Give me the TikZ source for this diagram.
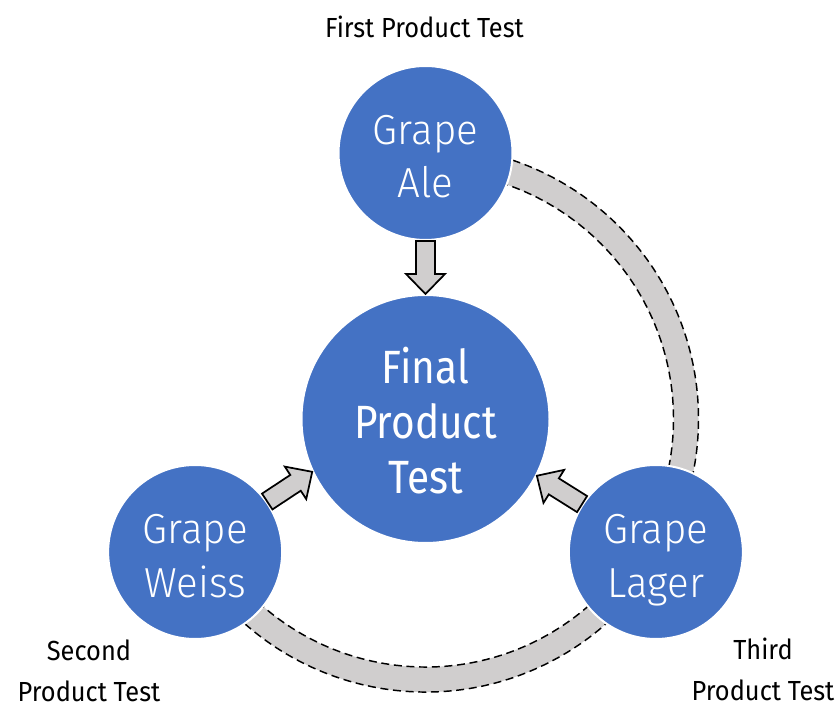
\documentclass[tikz,border=0pt]{standalone}
\usepackage{fontspec}
\setmainfont{Fira Sans}[FakeStretch=0.92]
\newfontfamily\lightfont{Fira Sans Light}[FakeStretch=0.96]
\newfontfamily\finalfont{Fira Sans}[FakeStretch=0.87]
\usetikzlibrary{calc}
\definecolor{cblue}{HTML}{4472C4}
\definecolor{cgray}{HTML}{D0CECE}
\newcommand\myblockarrow[2]{%
  \coordinate (ba-s) at (#1);
  \coordinate (ba-e) at (#2);
  \coordinate (ba-h) at ($(ba-e)!15pt!(ba-s)$);
  \draw[blockarr] ($(ba-s)!7.1pt!90:(ba-e)$) -- ($(ba-h)!7.1pt!90:(ba-e)$) -- ($(ba-h)!14.6pt!90:(ba-e)$) -- (ba-e) -- ($(ba-h)!14.6pt!-90:(ba-e)$) -- ($(ba-h)!7.1pt!-90:(ba-e)$) -- ($(ba-s)!7.1pt!-90:(ba-e)$) -- cycle;}
\begin{document}
\begin{tikzpicture}[x=0.75pt,y=0.75pt,
  stage/.style={circle, fill=cblue, draw=white, line width=1.5pt, text=white, align=center, inner sep=0pt, minimum size=130.5pt, text height=67.5pt, text depth=0pt, font=\lightfont\fontsize{31.5}{40}\selectfont},
  finalstage/.style={stage, minimum size=186pt, text height=111pt, font=\finalfont\fontsize{35}{41}\selectfont},
  testlabel/.style={align=center, inner sep=0pt, font=\fontsize{20.7}{30.5}\selectfont},
  band/.style={fill=cgray},
  bandedge/.style={draw=black, dash pattern=on 6pt off 3.5pt, line width=1.1pt},
  blockarr/.style={fill=cgray, draw=black, line width=1.3pt, line join=miter}]
\useasboundingbox (0,0) rectangle (840,708);
\coordinate (c) at (425.5,289);
% bands
\fill[band] ($(c)+(90:204.75pt)$) arc[start angle=90, end angle=-30, radius=204.75pt] -- ($(c)+(-30:186pt)$) arc[start angle=-30, end angle=90, radius=186pt] -- cycle;
\draw[bandedge] ($(c)+(90:204.75pt)$) arc[start angle=90, end angle=-30, radius=204.75pt];
\draw[bandedge] ($(c)+(90:186pt)$) arc[start angle=90, end angle=-30, radius=186pt];
\fill[band] ($(c)+(210:204.75pt)$) arc[start angle=210, end angle=330, radius=204.75pt] -- ($(c)+(330:186pt)$) arc[start angle=330, end angle=210, radius=186pt] -- cycle;
\draw[bandedge] ($(c)+(210:204.75pt)$) arc[start angle=210, end angle=330, radius=204.75pt];
\draw[bandedge] ($(c)+(210:186pt)$) arc[start angle=210, end angle=330, radius=186pt];
% stages
\node[finalstage] (final) at (c) {Final\\Product\\Test};
\node[stage] (ale) at ($(c)+(90:199.5pt)$) {Grape\\Ale};
\node[stage] (weiss) at ($(c)+(210:199.5pt)$) {Grape\\Weiss};
\node[stage] (lager) at ($(c)+(-30:199.5pt)$) {Grape\\Lager};
% arrows
\myblockarrow{ale.-90}{final.90}
\myblockarrow{weiss.35}{final.205}
\myblockarrow{lager.147}{final.333}
% labels
\node[testlabel] (t1) at (424.5,681) {First Product Test};
\node[testlabel] (t2) at (89,37.5) {Second\\Product Test};
\node[testlabel] (t3) at (763,38.5) {Third\\Product Test};
\end{tikzpicture}
\end{document}
